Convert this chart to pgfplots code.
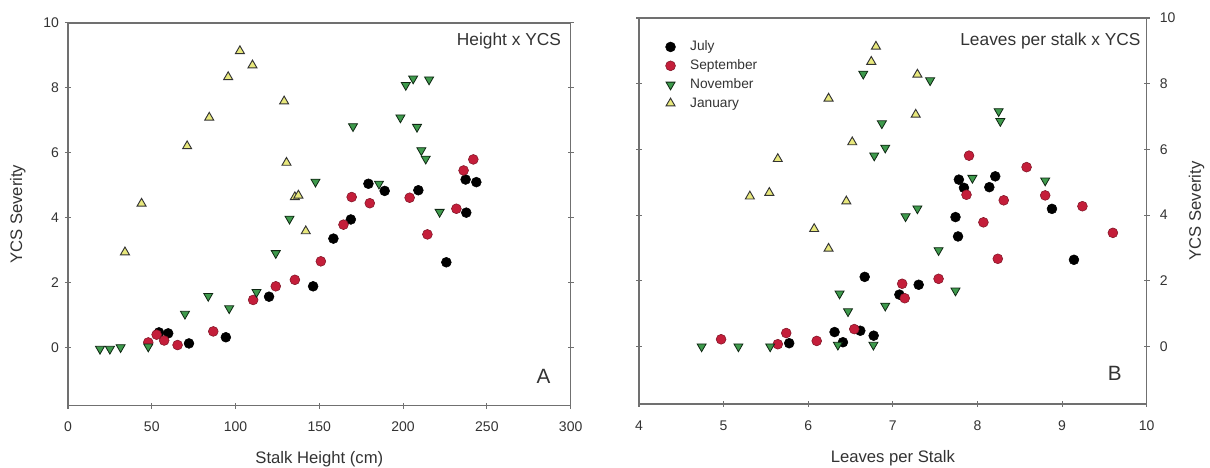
\documentclass[border=0pt]{standalone}
\usepackage{fontspec}
\setmainfont{Liberation Sans}
\usepackage{pgfplots}
\pgfplotsset{compat=1.18}

\definecolor{axgray}{HTML}{707070}
\definecolor{txt}{HTML}{333333}
\definecolor{sepred}{HTML}{C41E3A}
\definecolor{novgreen}{HTML}{3E9A4C}
\definecolor{janyel}{HTML}{E8E87C}

\pgfplotsset{
  ycs/.style={
    scale only axis, anchor=south west,
    axis line style={axgray, line width=1.1pt},
    every tick/.style={axgray, line width=0.9pt},
    major tick length=4.5pt, tick align=center,
    xtick pos=left, ytick pos=both,
    ticklabel style={font=\fontsize{10.5}{12}\selectfont, text=txt},
    xticklabel style={yshift=-6.5pt},
    label style={font=\fontsize{12.5}{14}\selectfont, text=txt},
    /pgf/number format/assume math mode=true,
    ytick={0,2,...,10}, ymax=10,
  },
  jul/.style={only marks, mark=*, mark size=3.7pt, mark options={draw=black, fill=black}},
  sep/.style={only marks, mark=*, mark size=3.7pt, mark options={draw=sepred!65!black, fill=sepred}},
  nov/.style={only marks, mark=triangle*, mark size=3.9pt, mark options={rotate=180, draw=black!75!novgreen, fill=novgreen, line width=0.6pt}},
  jan/.style={only marks, mark=triangle*, mark size=3.9pt, mark options={draw=black!80, fill=janyel, line width=0.7pt}},
}

\begin{document}
\begin{tikzpicture}
\useasboundingbox (-51pt,-46pt) rectangle (856.5pt,304.3pt);

% panel A: stalk height
\begin{axis}[ycs,
  at={(0pt,0pt)}, width=377pt, height=287.2pt,
  xmin=0, xmax=300, xtick={0,50,...,300},
  ymin=-1.8, yticklabel pos=left,
  yticklabel style={xshift=-1pt},
  xlabel={Stalk Height (cm)}, ylabel={YCS Severity},
  xlabel style={at={(axis description cs:0.5,-0.14)}, anchor=center},
  ylabel style={at={(axis description cs:-0.1,0.5)}, anchor=center},
]
\addplot[jul] coordinates {(54.3,0.46)(59.8,0.43)(72.2,0.12)(94.2,0.31)(120,1.56)(146.3,1.88)(158.4,3.35)(168.8,3.94)(179.3,5.04)(189,4.82)(209.1,4.84)(225.8,2.62)(237.3,5.17)(237.7,4.15)(243.7,5.09)};
\addplot[sep] coordinates {(47.9,0.15)(52.9,0.39)(57.4,0.21)(65.4,0.07)(86.7,0.49)(110.5,1.46)(124,1.88)(135.4,2.08)(150.9,2.65)(164.4,3.78)(169.3,4.63)(180.1,4.44)(203.9,4.61)(214.5,3.48)(231.8,4.27)(236.1,5.45)(241.9,5.79)};
\addplot[nov] coordinates {(19.1,-0.05)(25,-0.05)(31.4,0)(47.9,0.02)(69.8,1.03)(83.7,1.58)(96.2,1.2)(112.5,1.7)(124,2.9)(132.2,3.96)(147.7,5.1)(170.1,6.81)(185.6,5.04)(198.4,7.08)(201.6,8.08)(206,8.28)(208.3,6.79)(210.9,6.07)(213.5,5.81)(215.5,8.25)(221.8,4.17)};
\addplot[jan] coordinates {(34,2.93)(43.9,4.43)(71.1,6.2)(84.3,7.08)(95.6,8.33)(102.6,9.13)(110.1,8.69)(129,7.58)(130.4,5.69)(135.4,4.63)(137.5,4.68)(141.9,3.58)};
\node[anchor=east, font=\fontsize{13}{15}\selectfont, text=txt] at (rel axis cs:0.99,0.952) {Height x YCS};
\node[font=\fontsize{15.5}{17}\selectfont, text=txt] at (rel axis cs:0.946,0.076) {A};
\end{axis}

% panel B: leaves per stalk
\begin{axis}[ycs,
  at={(428.25pt,1.3pt)}, width=380.8pt, height=289.5pt,
  xmin=4, xmax=10, xtick={4,5,...,10},
  ymin=-1.75, yticklabel pos=right,
  yticklabel style={xshift=4pt},
  xlabel={Leaves per Stalk}, ylabel={YCS Severity},
  xlabel style={at={(axis description cs:0.5,-0.14)}, anchor=center},
  ylabel style={at={(axis description cs:1.098,0.5)}, anchor=center, rotate=0},
  legend style={at={(rel axis cs:0.044,0.955)}, anchor=north west, draw=none, fill=none,
    font=\fontsize{10.3}{12}\selectfont, text=txt, row sep=1.2pt,
    /tikz/every odd column/.append style={column sep=9pt}},
  legend cell align=left,
]
\addplot[jul] coordinates {(5.775,0.10)(6.311,0.44)(6.41,0.13)(6.615,0.48)(6.773,0.33)(6.667,2.12)(7.077,1.58)(7.305,1.88)(7.74,3.94)(7.77,3.35)(7.78,5.08)(7.84,4.83)(8.14,4.85)(8.21,5.18)(8.88,4.19)(9.14,2.64)};
\addlegendentry{July}
\addplot[sep] coordinates {(4.97,0.22)(5.64,0.07)(5.74,0.41)(6.10,0.17)(6.544,0.53)(7.11,1.91)(7.14,1.47)(7.54,2.06)(7.87,4.62)(7.90,5.81)(8.07,3.78)(8.24,2.67)(8.31,4.45)(8.58,5.46)(8.80,4.60)(9.24,4.27)(9.60,3.46)};
\addlegendentry{September}
\addplot[nov] coordinates {(4.74,0)(5.175,0)(5.55,0)(6.35,0.05)(6.77,0.05)(6.37,1.61)(6.47,1.07)(6.91,1.24)(7.74,1.70)(7.54,2.93)(7.15,3.96)(7.29,4.2)(7.94,5.13)(8.80,5.05)(8.27,6.86)(8.25,7.16)(7.44,8.1)(6.65,8.3)(6.87,6.79)(6.78,5.81)(6.91,6.05)};
\addlegendentry{November}
\addplot[jan] coordinates {(5.31,4.57)(5.54,4.68)(5.64,5.71)(6.07,3.58)(6.24,2.98)(6.24,7.55)(6.45,4.42)(6.52,6.22)(6.745,8.67)(6.80,9.13)(7.27,7.06)(7.29,8.28)};
\addlegendentry{January}
\node[anchor=east, font=\fontsize{13}{15}\selectfont, text=txt] at (rel axis cs:0.997,0.940) {Leaves per stalk x YCS};
\node[font=\fontsize{15.5}{17}\selectfont, text=txt] at (rel axis cs:0.937,0.080) {B};
\end{axis}
\end{tikzpicture}
\end{document}
